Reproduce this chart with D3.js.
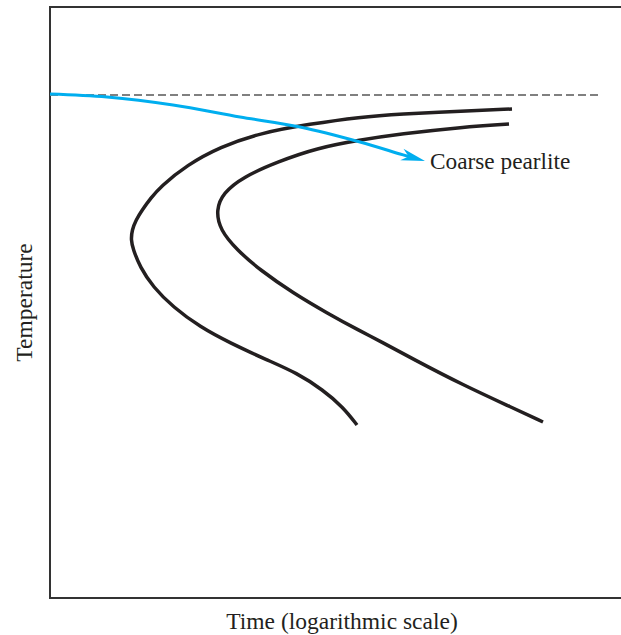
<!DOCTYPE html>
<html>
<head>
<meta charset="utf-8">
<script src="https://cdn.jsdelivr.net/npm/d3@7"></script>
<style>
  html, body { margin: 0; padding: 0; background: #fff; }
  svg { display: block; }
  text { font-family: "Liberation Serif", "Times New Roman", serif; fill: #231f20; }
</style>
</head>
<body>
<svg id="chart" width="621" height="635"></svg>
<script>
// Arbitrary units: x = log(time) units, y = temperature units
const startCurve = [
  [462,489],[413,487],[350,484],[310,481],[260,474],[210,465],[170,451],[137,433],
  [110,411],[101,400],[92,388],[86,378],[82,368],[81,358],[83,349],[90,331],[103,311],
  [123,291],[150,271],[180,255],[217,238],[247,225],[273,208],[293,191],[307,173]
];
const finishCurve = [
  [459,474],[413,471],[350,464],[310,458],[267,450],[227,436],[193,421],[173,405],
  [166,388],[170,368],[187,348],[210,328],[243,305],[277,285],[310,267],[330,257],
  [363,239],[413,213],[463,190],[493,176]
];
const coolingPath = [
  [0,504],[57,501],[123,493],[190,481],[250,471],[310,456],[350,444],[362,440.5]
];
const arrowTip = [375,437];
const eutectoidTemp = 503;
const eutectoidEnd = 548;
const xLabel = "Time (logarithmic scale)";
const yLabel = "Temperature";
const pathLabel = "Coarse pearlite";

const svg = d3.select("#chart");
const margin = {left: 50, top: 7, right: 0, bottom: 37};
const W = 621, H = 635;
const x = d3.scaleLinear().domain([0, 571]).range([margin.left, W - margin.right]);
const y = d3.scaleLinear().domain([0, 591]).range([H - margin.bottom, margin.top]);

const smooth = d3.line().x(d => x(d[0])).y(d => y(d[1])).curve(d3.curveBasis);
const line = d3.line().x(d => x(d[0])).y(d => y(d[1])).curve(d3.curveCatmullRom.alpha(0.5));

// frame (open on the right)
const frame = svg.append("g").attr("stroke", "#333").attr("stroke-width", 2).attr("fill", "none");
frame.append("path")
  .attr("d", `M${x(571)},${y(591)} H${x(0)} V${y(0)} H${x(571)}`);

// eutectoid dashed line
svg.append("line")
  .attr("x1", x(0)).attr("x2", x(eutectoidEnd))
  .attr("y1", y(eutectoidTemp)).attr("y2", y(eutectoidTemp))
  .attr("stroke", "#808080").attr("stroke-width", 2)
  .attr("stroke-dasharray", "8,4");

// C-curves
[startCurve, finishCurve].forEach(c => {
  svg.append("path").attr("d", smooth(c))
    .attr("fill", "none").attr("stroke", "#231f20").attr("stroke-width", 3.5)
    .attr("stroke-linecap", "butt");
});

// cooling path
svg.append("path").attr("d", line(coolingPath))
  .attr("fill", "none").attr("stroke", "#00aeef").attr("stroke-width", 3);

// arrowhead
{
  const last = coolingPath[coolingPath.length - 2];
  const tx = x(arrowTip[0]), ty = y(arrowTip[1]);
  const ang = Math.atan2(ty - y(last[1]), tx - x(last[0]));
  const L = 24, Wd = 6, notch = 17;
  const ca = Math.cos(ang), sa = Math.sin(ang);
  const pt = (a, b) => [tx - a * ca - b * (-sa), ty - a * sa - b * ca];
  const p1 = pt(L, Wd), p2 = pt(notch, 0), p3 = pt(L, -Wd);
  svg.append("path")
    .attr("d", `M${tx},${ty} L${p1[0]},${p1[1]} L${p2[0]},${p2[1]} L${p3[0]},${p3[1]} Z`)
    .attr("fill", "#00aeef");
}

// labels
svg.append("text").attr("x", x(380)).attr("y", y(429))
  .attr("font-size", 23.3).text(pathLabel);

svg.append("text").attr("x", 342).attr("y", 629)
  .attr("text-anchor", "middle").attr("font-size", 23.5).text(xLabel);

svg.append("text")
  .attr("transform", `translate(32,${(y(0) + y(591)) / 2}) rotate(-90)`)
  .attr("text-anchor", "middle").attr("font-size", 23.5).text(yLabel);
</script>
</body>
</html>
